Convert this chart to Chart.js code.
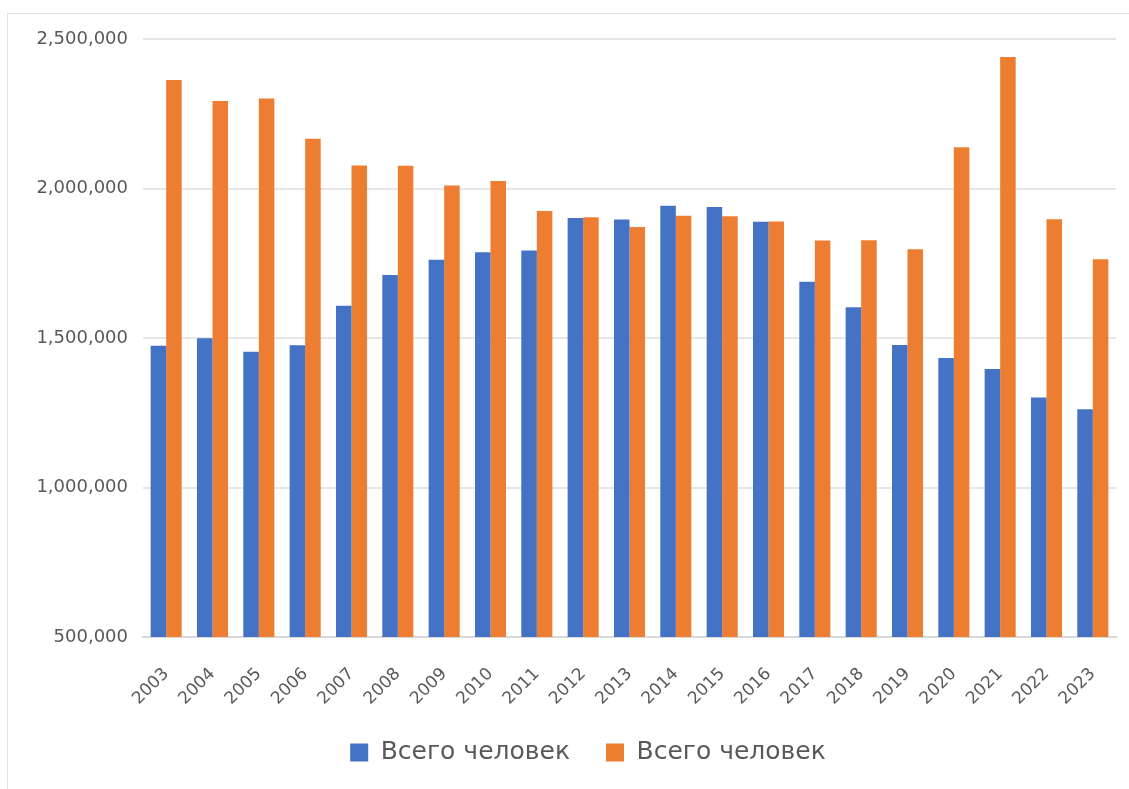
<!DOCTYPE html>
<html>
<head>
<meta charset="utf-8">
<script src="https://cdn.jsdelivr.net/npm/chart.js@4"></script>
<style>
  html, body { margin: 0; padding: 0; background: #fff; }
  #frame {
    position: absolute; left: 7px; top: 13px; width: 1140px; height: 800px;
    border: 1px solid #e3e3e3;
  }
  #chart { position: absolute; left: 0; top: 0; }
</style>
</head>
<body>
<div id="frame"></div>
<canvas id="chart" width="1129" height="789"></canvas>
<script>
// years on the x axis
const years = ["2003", "2004", "2005", "2006", "2007", "2008", "2009", "2010", "2011", "2012",
  "2013", "2014", "2015", "2016", "2017", "2018", "2019", "2020", "2021", "2022", "2023"];

// blue series
const blueValues = [1474000, 1499000, 1454000, 1476000, 1608000, 1711000, 1762000, 1787000, 1793000, 1901000,
  1896000, 1942000, 1938000, 1889000, 1688000, 1603000, 1477000, 1433000, 1396000, 1301000, 1262000];

// orange series
const orangeValues = [2363000, 2293000, 2301000, 2166000, 2077000, 2076000, 2010000, 2025000, 1925000, 1904000,
  1871000, 1909000, 1907000, 1890000, 1826000, 1827000, 1797000, 2138000, 2440000, 1897000, 1763000];

const seriesLabels = ["Всего человек", "Всего человек"];

const textColor = "#595959";
const font = "'DejaVu Sans', sans-serif";

// nudge the legend a bit, the library centres it on the whole canvas
const legendShift = {
  id: "legendShift",
  afterLayout(chart) {
    const lg = chart.legend;
    lg.left += 30;
    lg.right += 30;
    lg.top -= 14;
    lg.bottom -= 14;
  },
};

new Chart(document.getElementById("chart"), {
  type: "bar",
  data: {
    labels: years,
    datasets: [
      {
        label: seriesLabels[0],
        data: blueValues,
        backgroundColor: "#4472C4",
        barPercentage: 1,
        categoryPercentage: 0.67,
      },
      {
        label: seriesLabels[1],
        data: orangeValues,
        backgroundColor: "#ED7D31",
        barPercentage: 1,
        categoryPercentage: 0.67,
      },
    ],
  },
  options: {
    responsive: false,
    animation: false,
    layout: { padding: { left: 0, right: 13, top: 39, bottom: 0 } },
    scales: {
      x: {
        grid: { display: false },
        border: { color: "#d9d9d9", width: 2 },
        ticks: {
          color: textColor,
          font: { family: font, size: 17 },
          minRotation: 45,
          maxRotation: 45,
          padding: 19,
        },
        afterFit: (scale) => { scale.height = 81; },
      },
      y: {
        min: 500000,
        max: 2500000,
        grid: { color: "#e6e6e6", lineWidth: 2, drawTicks: false },
        border: { display: false },
        ticks: {
          stepSize: 500000,
          color: textColor,
          font: { family: font, size: 18 },
          padding: 15,
          callback: (v) => v.toLocaleString("en-US"),
        },
        afterFit: (scale) => { scale.width = 143; },
      },
    },
    plugins: {
      legend: {
        position: "bottom",
        labels: {
          color: textColor,
          font: { family: font, size: 25 },
          boxWidth: 18,
          boxHeight: 18,
          padding: 36,
        },
      },
      tooltip: { enabled: false },
    },
  },
  plugins: [legendShift],
});
</script>
</body>
</html>
